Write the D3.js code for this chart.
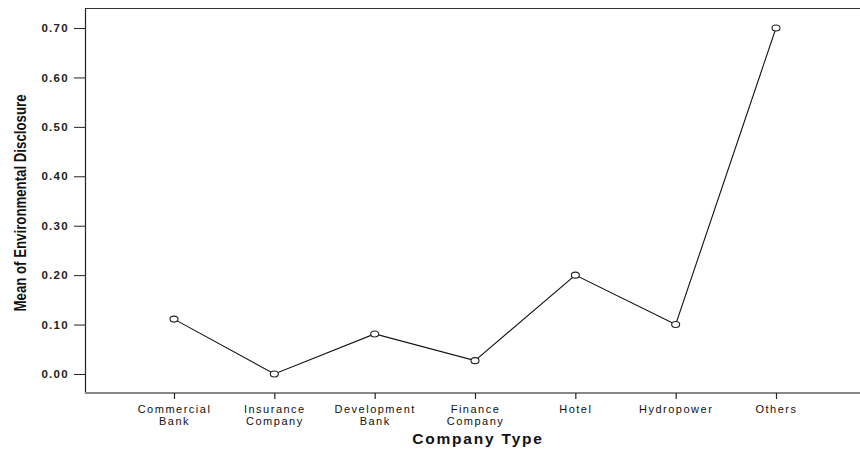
<!DOCTYPE html>
<html>
<head>
<meta charset="utf-8">
<script src="https://cdn.jsdelivr.net/npm/d3@7"></script>
<style>
body { margin: 0; background: #fff; }
svg { display: block; }
svg text { font-family: "Liberation Sans", Arial, Helvetica, sans-serif; }
</style>
</head>
<body>
<div id="chart"></div>
<script>
var categories = [["Commercial", "Bank"], ["Insurance", "Company"], ["Development", "Bank"],
                  ["Finance", "Company"], ["Hotel"], ["Hydropower"], ["Others"]];
var means = [0.111, 0.0, 0.081, 0.027, 0.200, 0.100, 0.700];
var yTicks = [0, 0.1, 0.2, 0.3, 0.4, 0.5, 0.6, 0.7];

function drawChart() {
    var width = 860, height = 449;
    var left = 85, top = 8, bottom = 393;
    var svg = d3.select("#chart").append("svg").attr("width", width).attr("height", height);

    var x = d3.scalePoint().domain(d3.range(categories.length)).range([174, 776]);
    var y = d3.scaleLinear().domain([-0.0385, 0.7405]).range([bottom, top]);

    // frame top
    svg.append("line").attr("x1", left).attr("x2", width).attr("y1", top + 0.5).attr("y2", top + 0.5)
        .attr("stroke", "#333").attr("stroke-width", 1.2);

    // y axis
    var yAxis = svg.append("g").attr("transform", "translate(" + left + ",0)")
        .call(d3.axisLeft(y).tickValues(yTicks).tickFormat(d3.format(".2f")).tickSize(11).tickSizeOuter(0));
    yAxis.select(".domain").attr("stroke", "#222").attr("stroke-width", 1.2);
    yAxis.selectAll(".tick line").attr("stroke", "#222");
    yAxis.selectAll(".tick text").attr("font-size", 11.5).attr("font-weight", "bold")
        .attr("fill", "#222").attr("dx", "-2").style("letter-spacing", "1.3px");

    // x axis
    var xAxis = svg.append("g").attr("transform", "translate(0," + bottom + ")")
        .call(d3.axisBottom(x).tickSize(6).tickSizeOuter(0).tickFormat(""));
    xAxis.select(".domain").attr("d", "M" + left + ",0H" + width).attr("stroke", "#888").attr("stroke-width", 2);
    xAxis.selectAll(".tick line").attr("stroke", "#222").attr("stroke-width", 1.2);
    xAxis.selectAll(".tick").each(function(d) {
        var t = d3.select(this).append("text").attr("fill", "#111").attr("text-anchor", "middle")
            .attr("font-size", 11).style("letter-spacing", "1.5px");
        categories[d].forEach(function(s, k) {
            t.append("tspan").attr("x", 0).attr("y", 20 + k * 11.5).text(s);
        });
    });

    // line + markers
    var line = d3.line().x(function(d, i) { return x(i); }).y(function(d) { return y(d); });
    svg.append("path").datum(means).attr("d", line).attr("fill", "none").attr("stroke", "#111").attr("stroke-width", 1.1);
    svg.selectAll(".pt").data(means).enter().append("ellipse").classed("pt", 1)
        .attr("cx", function(d, i) { return x(i); }).attr("cy", function(d) { return y(d); })
        .attr("rx", 4).attr("ry", 3).attr("fill", "#fff").attr("stroke", "#222").attr("stroke-width", 1.1);

    // titles
    svg.append("text").attr("x", 478).attr("y", 444).attr("text-anchor", "middle")
        .attr("font-weight", "bold").attr("font-size", 15.5).style("letter-spacing", "1.8px")
        .attr("fill", "#111").text("Company Type");
    svg.append("text").attr("transform", "translate(26,203) rotate(-90)").attr("text-anchor", "middle")
        .attr("font-weight", "bold").attr("font-size", 17)
        .attr("textLength", 217).attr("lengthAdjust", "spacingAndGlyphs")
        .attr("fill", "#111").text("Mean of Environmental Disclosure");
}
drawChart();
</script>
</body>
</html>
